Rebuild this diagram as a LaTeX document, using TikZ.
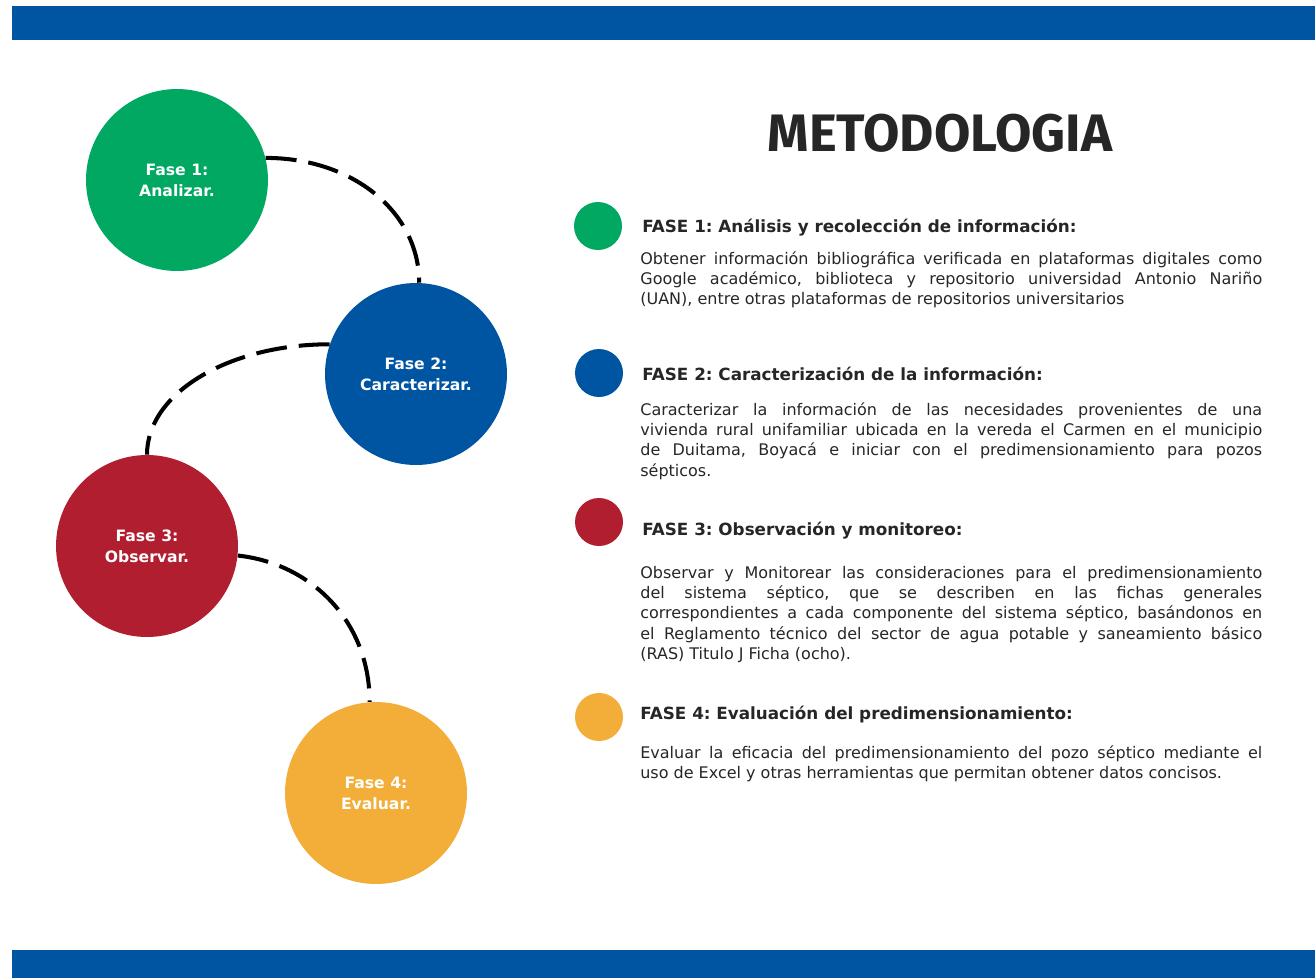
\documentclass[tikz,border=0pt]{standalone}
\usepackage{fontspec}
\setmainfont{DejaVu Sans}
\newfontfamily\titulofont{Fira Sans}
\frenchspacing
\definecolor{azul}{RGB}{0,85,162}
\definecolor{verde}{RGB}{0,168,98}
\definecolor{rojo}{RGB}{176,30,48}
\definecolor{amarillo}{RGB}{242,174,56}
\definecolor{gris}{RGB}{38,38,38}
\begin{document}
\begin{tikzpicture}[x=0.02cm,y=-0.02cm,
	fase/.style={circle, minimum size=3.64cm, inner sep=0, text=white, align=center, font=\fontsize{8.9}{11.9}\selectfont\bfseries},
	punto/.style={circle, minimum size=0.96cm, inner sep=0},
	titulo/.style={anchor=base west, inner sep=0, text=gris, font=\fontsize{9.55}{11.6}\selectfont\bfseries},
	texto/.style={anchor=base west, inner sep=0, text width=12.44cm, align=justify, text=gris, font=\fontsize{9.1}{11.62}\selectfont},
	conector/.style={line width=2.3pt, dash pattern=on 0.62cm off 0.24cm}]
	\useasboundingbox (0,0) rectangle (1315,978);
	\fill[azul] (12,6) rectangle (1315,40);
	\fill[azul] (12,950) rectangle (1315,978);
	\node (F1) at (177,180)	[fase, fill=verde]	{Fase 1:\\Analizar.};
	\node (F2) at (416,374)	[fase, fill=azul]	{Fase 2:\\Caracterizar.};
	\node (F3) at (147,546)	[fase, fill=rojo]	{Fase 3:\\Observar.};
	\node (F4) at (376,793)	[fase, fill=amarillo]	{Fase 4:\\Evaluar.};
	\draw[conector] (F1.14) .. controls +(88,0) and +(0,-70) .. (F2.88);
	\draw[conector] (F2.161) .. controls +(-100,0) and +(0,-62) .. (F3.north);
	\draw[conector] (F3.-6) .. controls +(74,8) and +(0,-80) .. (F4.94);
	\node (M) at (940,133)	[inner sep=0, text=gris, font=\titulofont\fontsize{30}{36}\selectfont\bfseries]	{METODOLOGIA};
	\node (B1) at (598,226)	[punto, fill=verde]	{};
	\node (B2) at (599,373)	[punto, fill=azul]	{};
	\node (B3) at (599,522)	[punto, fill=rojo]	{};
	\node (B4) at (599,717)	[punto, fill=amarillo]	{};
	\node (T1) at (642,232)	[titulo]	{FASE 1: Análisis y recolección de información:};
	\node (T2) at (642,380)	[titulo]	{FASE 2: Caracterización de la información:};
	\node (T3) at (642,535)	[titulo]	{FASE 3: Observación y monitoreo:};
	\node (T4) at (640,719)	[titulo]	{FASE 4: Evaluación del predimensionamiento:};
	\node (D1) at (640,264)	[texto]	{Obtener información bibliográfica verificada en plataformas digitales como\linebreak Google académico, biblioteca y repositorio universidad Antonio Nariño\linebreak (UAN), entre otras plataformas de repositorios universitarios};
	\node (D2) at (640,415)	[texto]	{Caracterizar la información de las necesidades provenientes de una\linebreak vivienda rural unifamiliar ubicada en la vereda el Carmen en el municipio\linebreak de Duitama, Boyacá e iniciar con el predimensionamiento para pozos\linebreak sépticos.};
	\node (D3) at (640,578)	[texto]	{Observar y Monitorear las consideraciones para el predimensionamiento\linebreak del sistema séptico, que se describen en las fichas generales\linebreak correspondientes a cada componente del sistema séptico, basándonos en\linebreak el Reglamento técnico del sector de agua potable y saneamiento básico\linebreak (RAS) Titulo J Ficha (ocho).};
	\node (D4) at (640,758)	[texto]	{Evaluar la eficacia del predimensionamiento del pozo séptico mediante el\linebreak uso de Excel y otras herramientas que permitan obtener datos concisos.};
\end{tikzpicture}
\end{document}
